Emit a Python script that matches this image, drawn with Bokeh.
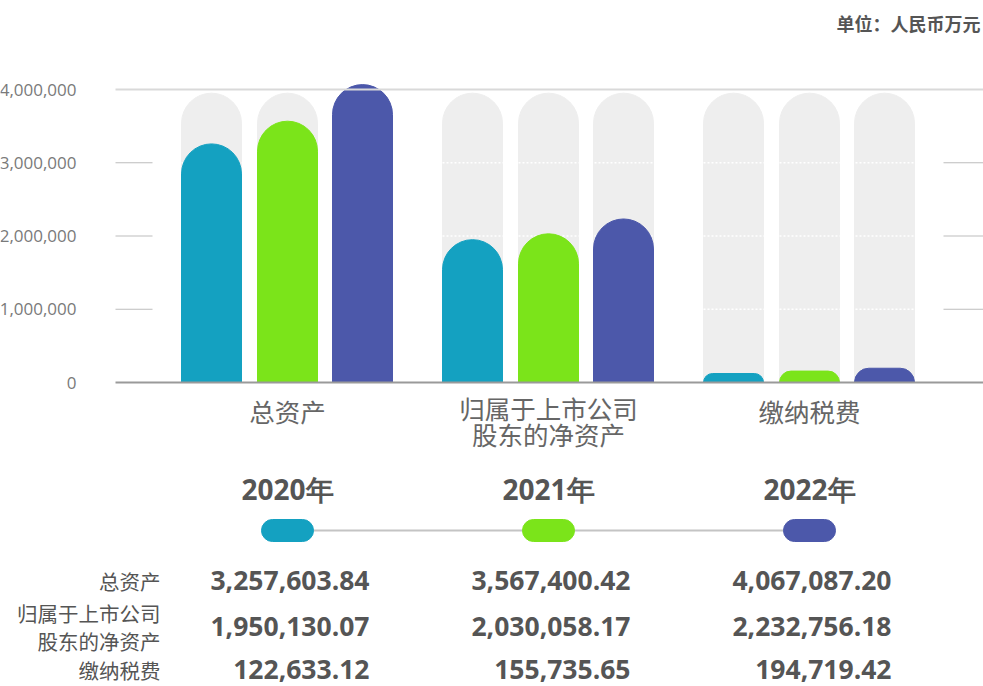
from bokeh.plotting import figure
from bokeh.models import Range1d, FixedTicker, NumeralTickFormatter
from bokeh.embed import file_html
from bokeh.resources import INLINE
from bokeh.core.properties import value

# ---------------- data ----------------
categories = ["总资产", "归属于上市公司\n股东的净资产", "缴纳税费"]
years = ["2020年", "2021年", "2022年"]
values_2020 = [3257603.84, 1950130.07, 122633.12]
values_2021 = [3567400.42, 2030058.17, 155735.65]
values_2022 = [4067087.20, 2232756.18, 194719.42]
series = [values_2020, values_2021, values_2022]
y_ticks = [0, 1000000, 2000000, 3000000, 4000000]
grid_ticks = [1000000, 2000000, 3000000]
track_max = 3950000
unit_text = "单位：人民币万元"
colors = ["#14A1C1", "#7BE41A", "#4C58AA"]

# ---------------- layout helpers ----------------
W = 983
H = 686
LEFT = 115
GROUP_PX = 261.0
GROUP0_PX = 287.0
BASE_PX = 382.0
TOP4M_PX = 89.0
ppu = (BASE_PX - TOP4M_PX) / 4000000.0


def xd(px):
    return (px - GROUP0_PX) / GROUP_PX


def yd(px):
    return (BASE_PX - px) / ppu


bar_w = 60 / GROUP_PX
offsets = [-76 / GROUP_PX, 0.0, 75 / GROUP_PX]
n = len(categories)
FONT = value("Open Sans")
CJK = value("Noto Sans CJK SC")

p = figure(width=W, height=H, output_backend="svg", toolbar_location=None,
           x_range=Range1d(xd(0), xd(W)), y_range=Range1d(yd(H), yd(0)),
           min_border_left=0, min_border_right=0, min_border_top=0,
           min_border_bottom=0, x_axis_location=None, outline_line_color=None)
p.grid.visible = False
yax = p.yaxis[0]
yax.fixed_location = xd(LEFT)
yax.ticker = FixedTicker(ticks=y_ticks)
yax.formatter = NumeralTickFormatter(format="0,0")
yax.axis_line_color = None
yax.major_tick_line_color = None
yax.major_tick_out = 0
yax.major_tick_in = 0
yax.minor_tick_line_color = None
yax.minor_tick_out = 0
yax.major_label_standoff = 39
yax.major_label_text_font = "Open Sans"
yax.major_label_text_font_size = "17px"
yax.major_label_text_color = "#7a7a7a"

# background tracks
for j in range(3):
    xs = [i + offsets[j] for i in range(n)]
    p.vbar(x=xs, width=bar_w, top=[track_max] * n, bottom=0, color="#eeeeee",
           border_radius=(30, 30, 0, 0))

# white dotted gridlines inside each group
g_left = [i + offsets[0] - bar_w / 2 for i in range(n)]
g_right = [i + offsets[2] + bar_w / 2 for i in range(n)]
for t in grid_ticks:
    p.segment(x0=g_left, x1=g_right, y0=[t] * n, y1=[t] * n,
              line_color="white", line_width=1.5, line_dash="2 2")

# data bars
for j in range(3):
    xs = [i + offsets[j] for i in range(n)]
    p.vbar(x=xs, width=bar_w, top=series[j], bottom=0, color=colors[j],
           border_radius=(30, 30, 0, 0))

# outer gridline stubs
gap = 29 / GROUP_PX
p.segment(x0=[xd(LEFT)] * 3, x1=[g_left[0] - gap] * 3, y0=grid_ticks, y1=grid_ticks,
          line_color="#bdbdbd", line_width=1)
p.segment(x0=[g_right[-1] + gap] * 3, x1=[xd(W)] * 3, y0=grid_ticks, y1=grid_ticks,
          line_color="#bdbdbd", line_width=1)
p.segment(x0=[xd(LEFT)], x1=[xd(W)], y0=[y_ticks[-1]], y1=[y_ticks[-1]],
          line_color="#d9d9d9", line_width=2)
p.segment(x0=[xd(LEFT)], x1=[xd(W)], y0=[0], y1=[0], line_color="#9a9a9a", line_width=2)

# category labels (one text per line)
cx, cy, ct = [], [], []
for i, c in enumerate(categories):
    lines = c.split("\n")
    first = 410 - 3 * (len(lines) - 1)
    for k, ln in enumerate(lines):
        cx.append(i)
        cy.append(yd(first + 26 * k))
        ct.append(ln)
p.text(x=cx, y=cy, text=ct, text_align="center", text_baseline="middle",
       text_font=CJK, text_font_size="25.5px", text_color="#666666")

# unit label
p.text(x=[xd(980)], y=[yd(22)], text=[unit_text], text_align="right",
       text_baseline="middle", text_font=CJK, text_font_size="18px",
       text_font_style="bold", text_color="#555555")

# ---------------- table ----------------
p.text(x=list(range(3)), y=[yd(488)] * 3, text=years, text_align="center",
       text_baseline="middle", text_font=FONT, text_font_size="28px",
       text_font_style="bold", text_color="#555555")
p.segment(x0=[0], x1=[2], y0=[yd(530)], y1=[yd(530)], line_color="#c4c4c4", line_width=2)
p.rect(x=list(range(3)), y=[yd(530)] * 3, width=52 / GROUP_PX, height=22 / ppu,
       color=colors, border_radius=11)

row_px = [580, 626, 669]
rx, ry, rt = [], [], []
for i, c in enumerate(categories):
    lines = c.split("\n")
    first = row_px[i] - 14 * (len(lines) - 1)
    for k, ln in enumerate(lines):
        rx.append(xd(160))
        ry.append(yd(first + 28 * k))
        rt.append(ln)
p.text(x=rx, y=ry, text=rt, text_align="right", text_baseline="middle",
       text_font=CJK, text_font_size="20.5px", text_color="#555555")

val_off = 82 / GROUP_PX
for j in range(3):
    p.text(x=[j + val_off] * n, y=[yd(r) for r in row_px],
           text=[f"{v:,.2f}" for v in series[j]],
           text_align="right", text_baseline="middle", text_font=FONT,
           text_font_size="26.5px", text_font_style="bold", text_color="#555555")

open("out.html", "w").write(file_html(p, INLINE))
